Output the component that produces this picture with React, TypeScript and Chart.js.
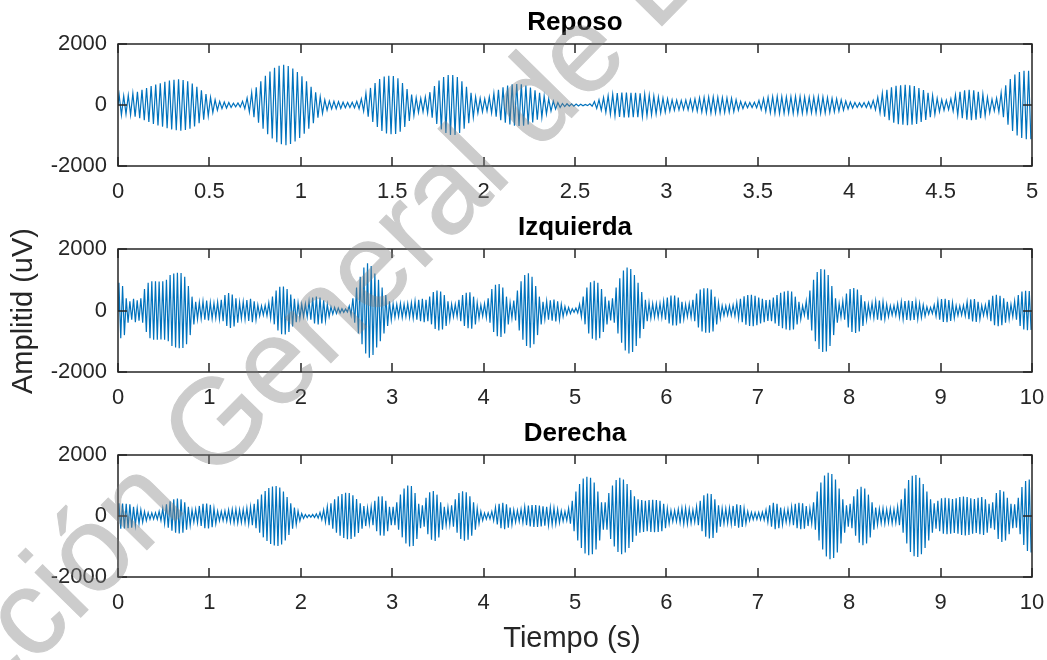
import React, { useEffect, useRef } from "react";
import { Chart, registerables } from "chart.js";

Chart.register(...registerables);

const LINE_COLOR = "#0072BD";
const AXIS_COLOR = "#262626";
const FONT = "'Liberation Sans', Arial, Helvetica, sans-serif";

// Peak amplitude (uV) of every oscillation cycle, in time order.
const reposoCyclesPerSecond = 40;
const reposoAmplitude = [
  330, 300, 320, 380, 430, 500, 560, 620, 670, 710, 760, 800, 830, 840, 820, 780, 700, 600, 480, 360,
  250, 170, 120, 100, 80, 60, 70, 120, 230, 400, 580, 780, 960, 1100, 1220, 1290, 1320, 1280, 1200, 1080,
  940, 780, 600, 420, 270, 170, 130, 120, 110, 90, 80, 90, 120, 200, 380, 560, 720, 850, 930, 960,
  950, 880, 720, 520, 340, 240, 220, 260, 420, 620, 800, 920, 980, 980, 920, 780, 600, 400, 260, 220,
  200, 260, 380, 500, 580, 640, 680, 690, 680, 640, 570, 480, 400, 290, 200, 130, 80, 50, 40, 40,
  30, 25, 20, 40, 110, 170, 240, 300, 350, 390, 410, 410, 400, 400, 380, 350, 320, 290, 260, 230,
  200, 170, 160, 150, 160, 180, 200, 230, 250, 260, 260, 250, 240, 230, 220, 170, 120, 90, 80, 90,
  150, 210, 250, 270, 280, 270, 260, 270, 280, 270, 260, 250, 260, 270, 260, 240, 220, 200, 170, 130,
  100, 80, 70, 80, 100, 150, 250, 380, 500, 580, 630, 650, 660, 650, 620, 560, 490, 400, 310, 220,
  170, 150, 200, 330, 430, 480, 500, 480, 430, 350, 250, 190, 220, 400, 650, 850, 1000, 1080, 1120, 1120,
];

const izquierdaCyclesPerSecond = 25;
const izquierdaAmplitude = [
  900, 800, 400, 300, 380, 330, 400, 700, 900, 950, 950, 940, 950, 1000, 1150, 1200, 1230, 1220, 1100, 800, 450, 280, 260, 300, 320,
  260, 240, 270, 350, 500, 570, 520, 400, 260, 280, 340, 380, 300, 180, 150, 170, 250, 450, 650, 770, 780, 700, 520, 380, 250,
  200, 210, 300, 420, 450, 420, 330, 200, 120, 100, 80, 60, 50, 150, 400, 750, 1100, 1400, 1540, 1450, 1200, 1000, 750, 500, 300,
  220, 200, 230, 200, 220, 250, 300, 350, 380, 350, 450, 600, 650, 620, 500, 300, 200, 200, 350, 500, 580, 590, 450, 250, 180,
  220, 400, 700, 840, 860, 750, 450, 250, 320, 650, 950, 1150, 1210, 1100, 800, 450, 280, 300, 330, 360, 300, 200, 130, 100, 60,
  80, 200, 450, 750, 920, 970, 900, 700, 450, 320, 400, 750, 1050, 1300, 1400, 1350, 1150, 900, 600, 350, 250, 220, 220, 230, 300,
  420, 490, 490, 420, 280, 200, 220, 350, 550, 680, 720, 720, 680, 450, 250, 160, 150, 160, 180, 260, 380, 460, 500, 510, 480,
  420, 380, 340, 350, 420, 500, 580, 620, 640, 620, 450, 280, 150, 300, 650, 1000, 1250, 1350, 1330, 1150, 800, 400, 220, 300, 550,
  700, 730, 680, 500, 300, 200, 240, 300, 320, 280, 200, 150, 160, 220, 280, 310, 320, 310, 280, 230, 180, 120, 100, 180, 300,
  370, 380, 340, 250, 160, 150, 170, 280, 360, 370, 280, 160, 180, 350, 480, 510, 480, 400, 280, 200, 300, 500, 620, 640, 630,
];

const derechaCyclesPerSecond = 25;
const derechaAmplitude = [
  420, 410, 400, 380, 300, 250, 200, 150, 110, 100, 110, 150, 250, 380, 480, 550, 570, 550, 450, 300, 200, 220, 330, 400, 410,
  370, 250, 160, 150, 170, 200, 220, 230, 210, 220, 260, 300, 400, 550, 700, 820, 920, 970, 980, 930, 800, 620, 420, 280, 160,
  80, 50, 40, 50, 70, 120, 200, 300, 420, 550, 650, 720, 760, 750, 680, 560, 420, 330, 260, 300, 500, 640, 650, 500, 300,
  300, 450, 700, 900, 1000, 980, 750, 400, 350, 600, 780, 820, 700, 450, 300, 280, 350, 550, 750, 810, 780, 650, 450, 250, 150,
  100, 100, 150, 280, 400, 430, 380, 280, 200, 180, 220, 300, 340, 360, 360, 340, 320, 300, 280, 260, 220, 170, 150, 250, 500,
  800, 1050, 1230, 1290, 1250, 1100, 800, 450, 450, 750, 1000, 1180, 1250, 1200, 1050, 850, 650, 550, 520, 500, 520, 530, 520, 500, 400,
  250, 180, 180, 220, 260, 260, 230, 200, 300, 500, 680, 740, 720, 550, 350, 250, 240, 260, 330, 380, 360, 250, 150, 120, 110,
  120, 130, 200, 350, 430, 400, 280, 200, 220, 300, 400, 430, 420, 330, 250, 450, 800, 1100, 1330, 1420, 1380, 1200, 900, 550, 350,
  400, 650, 880, 960, 900, 700, 450, 280, 230, 250, 220, 240, 220, 300, 550, 900, 1180, 1320, 1340, 1250, 1050, 800, 550, 420, 500,
  580, 600, 580, 560, 580, 620, 640, 620, 580, 560, 600, 620, 550, 400, 450, 750, 850, 800, 600, 400, 380, 600, 950, 1150, 1200,
];

const reposoTimeTicks = [0, 0.5, 1, 1.5, 2, 2.5, 3, 3.5, 4, 4.5, 5];
const timeTicks10 = [0, 1, 2, 3, 4, 5, 6, 7, 8, 9, 10];
const amplitudeTicks = [-2000, 0, 2000];

const titles = ["Reposo", "Izquierda", "Derecha"];
const xAxisLabel = "Tiempo (s)";
const yAxisLabel = "Amplitid (uV)";
const watermark = "Dirección General de Bibliotecas";

// Each cycle becomes one crest and one trough, sampled twice per cycle.
function toSamples(amplitude: number[], cyclesPerSecond: number) {
  const pts: { x: number; y: number }[] = [{ x: 0, y: 0 }];
  amplitude.forEach((a, i) => {
    pts.push({ x: (i + 0.25) / cyclesPerSecond, y: a });
    pts.push({ x: (i + 0.75) / cyclesPerSecond, y: -a });
  });
  return pts;
}

const TICK_LEN = 9;

// Boxed axes with inward ticks on all four sides, plus the panel title.
const framePlugin = {
  id: "boxFrame",
  afterDatasetsDraw(chart: any, _args: any, opts: any) {
    const { ctx, chartArea, scales } = chart;
    const { left, right, top, bottom } = chartArea;
    ctx.save();
    ctx.strokeStyle = AXIS_COLOR;
    ctx.lineWidth = 1.5;
    ctx.strokeRect(left, top, right - left, bottom - top);
    ctx.beginPath();
    scales.x.ticks.forEach((t: any) => {
      const px = Math.round(scales.x.getPixelForValue(t.value));
      ctx.moveTo(px, bottom);
      ctx.lineTo(px, bottom - TICK_LEN);
      ctx.moveTo(px, top);
      ctx.lineTo(px, top + TICK_LEN);
    });
    scales.y.ticks.forEach((t: any) => {
      const py = Math.round(scales.y.getPixelForValue(t.value));
      ctx.moveTo(left, py);
      ctx.lineTo(left + TICK_LEN, py);
      ctx.moveTo(right, py);
      ctx.lineTo(right - TICK_LEN, py);
    });
    ctx.stroke();
    if (opts && opts.title) {
      ctx.fillStyle = "#000";
      ctx.font = `bold 26px ${FONT}`;
      ctx.textAlign = "center";
      ctx.textBaseline = "middle";
      ctx.fillText(opts.title, (left + right) / 2, top - 21);
    }
    ctx.restore();
  },
};

type PanelProps = {
  top: number;
  height: number;
  padTop: number;
  title: string;
  amplitude: number[];
  cyclesPerSecond: number;
  xMax: number;
  xTicks: number[];
};

function Panel({ top, height, padTop, title, amplitude, cyclesPerSecond, xMax, xTicks }: PanelProps) {
  const ref = useRef<HTMLCanvasElement>(null);
  useEffect(() => {
    const chart = new Chart(ref.current as HTMLCanvasElement, {
      type: "line",
      data: {
        datasets: [
          {
            data: toSamples(amplitude, cyclesPerSecond),
            borderColor: LINE_COLOR,
            borderWidth: 1.2,
            pointRadius: 0,
            tension: 0,
            fill: false,
          },
        ],
      },
      options: {
        animation: false,
        responsive: false,
        devicePixelRatio: 1,
        layout: { padding: { top: padTop, right: 15, left: 0, bottom: 0 } },
        plugins: {
          legend: { display: false },
          tooltip: { enabled: false },
          title: { display: false },
          boxFrame: { title },
        } as any,
        scales: {
          x: {
            type: "linear",
            min: 0,
            max: xMax,
            grid: { display: false, drawTicks: false },
            border: { display: false },
            afterBuildTicks: (s: any) => {
              s.ticks = xTicks.map((v) => ({ value: v }));
            },
            afterFit: (s: any) => {
              s.height = 44;
              s.paddingLeft = 0;
              s.paddingRight = 0;
            },
            ticks: {
              color: AXIS_COLOR,
              font: { family: FONT, size: 22 },
              padding: 13,
              maxRotation: 0,
              autoSkip: false,
              callback: (v: any) => String(v),
            },
          },
          y: {
            type: "linear",
            min: -2000,
            max: 2000,
            grid: { display: false, drawTicks: false },
            border: { display: false },
            afterBuildTicks: (s: any) => {
              s.ticks = amplitudeTicks.map((v) => ({ value: v }));
            },
            afterFit: (s: any) => {
              s.width = 118;
              s.paddingTop = 0;
              s.paddingBottom = 0;
            },
            ticks: {
              color: AXIS_COLOR,
              font: { family: FONT, size: 22 },
              padding: 11,
              callback: (v: any) => String(v),
            },
          },
        },
      },
      plugins: [framePlugin],
    });
    return () => chart.destroy();
  }, []);
  return (
    <canvas
      ref={ref}
      width={1047}
      height={height}
      style={{ position: "absolute", left: 0, top, width: 1047, height, display: "block" }}
    />
  );
}

export default function App() {
  return (
    <div
      style={{
        position: "fixed",
        left: 0,
        top: 0,
        width: 1047,
        height: 660,
        background: "#fff",
        overflow: "hidden",
        fontFamily: FONT,
      }}
    >
      <Panel top={0} height={210} padTop={44} title={titles[0]} amplitude={reposoAmplitude}
        cyclesPerSecond={reposoCyclesPerSecond} xMax={5} xTicks={reposoTimeTicks} />
      <Panel top={210} height={206} padTop={39} title={titles[1]} amplitude={izquierdaAmplitude}
        cyclesPerSecond={izquierdaCyclesPerSecond} xMax={10} xTicks={timeTicks10} />
      <Panel top={416} height={205} padTop={39} title={titles[2]} amplitude={derechaAmplitude}
        cyclesPerSecond={derechaCyclesPerSecond} xMax={10} xTicks={timeTicks10} />
      <div
        style={{
          position: "absolute",
          left: 572,
          top: 637,
          transform: "translate(-50%, -50%)",
          fontSize: 29,
          color: AXIS_COLOR,
          whiteSpace: "nowrap",
        }}
      >
        {xAxisLabel}
      </div>
      <div
        style={{
          position: "absolute",
          left: 22,
          top: 311,
          transform: "translate(-50%, -50%) rotate(-90deg)",
          fontSize: 29,
          color: AXIS_COLOR,
          whiteSpace: "nowrap",
        }}
      >
        {yAxisLabel}
      </div>
      <div
        style={{
          position: "absolute",
          left: 420,
          top: 212,
          transform: "translate(-50%, -50%) rotate(-45.5deg)",
          fontSize: 121,
          color: "rgb(128,128,128)",
          WebkitTextStroke: "1px rgb(128,128,128)",
          opacity: 0.4,
          whiteSpace: "nowrap",
          pointerEvents: "none",
        }}
      >
        {watermark}
      </div>
    </div>
  );
}
